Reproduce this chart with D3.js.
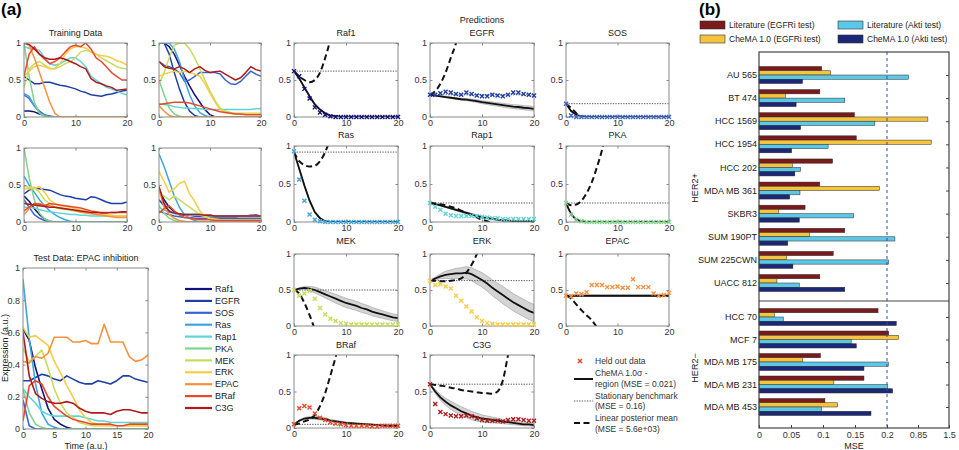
<!DOCTYPE html>
<html>
<head>
<meta charset="utf-8">
<title>CheMA predictions</title>
<script src="https://cdn.jsdelivr.net/npm/d3@7"></script>
<style>
  body { margin: 0; background: #fff; }
  svg { font-family: "Liberation Sans", Arial, sans-serif; }
</style>
</head>
<body>
<svg width="959" height="450"></svg>
<script>
// ---- data ----
var species = ["Raf1", "EGFR", "SOS", "Ras", "Rap1", "PKA", "MEK", "ERK", "EPAC", "BRaf", "C3G"];
var speciesColors = ["#12127c", "#1f3ea6", "#3a64c8", "#40a4e2", "#5fd4d8", "#80d48a", "#c6dc5c", "#f6cc48", "#f7913f", "#e9492b", "#ad1a1c"];
var times = [0,1,2,3,4,5,6,7,8,9,10,11,12,13,14,15,16,17,18,19,20];

// training data, one row per species
var trainA = [
  [0.08,0.08,0.07,0.04,0.02,0.01,0,0,0,0,0,0,0,0,0,0,0,0,0,0,0],
  [0.55,0.5,0.45,0.45,0.47,0.47,0.45,0.43,0.42,0.4,0.38,0.35,0.33,0.3,0.29,0.28,0.3,0.31,0.33,0.35,0.36],
  [0.3,0.25,0.15,0.08,0.03,0.01,0,0,0,0,0,0,0,0,0,0,0,0,0,0,0],
  [0.32,0.28,0.15,0.06,0.02,0,0,0,0,0,0,0,0,0,0,0,0,0,0,0,0],
  [0.95,0.93,0.92,0.9,0.8,0.72,0.7,0.72,0.76,0.8,0.8,0.75,0.68,0.55,0.5,0.45,0.4,0.38,0.35,0.32,0.3],
  [1,0.55,0.2,0.05,0.01,0,0,0,0,0,0,0,0,0,0,0,0,0,0,0,0],
  [0.4,0.65,0.72,0.75,0.7,0.66,0.65,0.68,0.72,0.75,0.8,0.88,0.9,0.88,0.85,0.8,0.76,0.72,0.68,0.66,0.65],
  [0.55,0.62,0.68,0.7,0.68,0.65,0.66,0.72,0.85,0.92,0.95,0.95,0.93,0.88,0.85,0.83,0.82,0.8,0.76,0.74,0.7],
  [1,0.97,0.8,0.6,0.4,0.2,0.05,0,0,0,0,0,0,0,0,0,0,0,0,0,0],
  [0.55,0.85,0.95,0.85,0.78,0.72,0.75,0.8,0.88,0.95,0.97,0.95,1,0.92,0.8,0.75,0.68,0.6,0.55,0.5,0.5],
  [1,0.98,0.92,0.85,0.8,0.78,0.78,0.8,0.78,0.75,0.72,0.68,0.65,0.52,0.47,0.45,0.42,0.4,0.36,0.37,0.38]
];
var trainB = [
  [1,1,0.95,0.85,0.7,0.55,0.42,0.3,0.2,0.1,0.03,0,0,0,0,0,0,0,0,0,0],
  [1,1,0.85,0.6,0.38,0.2,0.08,0.02,0,0,0,0,0,0,0,0,0,0,0,0,0],
  [0.75,0.7,0.68,0.65,0.6,0.48,0.5,0.55,0.6,0.6,0.6,0.6,0.58,0.5,0.45,0.44,0.48,0.55,0.62,0.58,0.55],
  [1,1,1,0.92,0.75,0.5,0.3,0.15,0.06,0.02,0,0,0,0,0,0,0,0,0,0,0],
  [0.18,0.17,0.16,0.14,0.13,0.12,0.12,0.11,0.11,0.1,0.1,0.1,0.1,0.1,0.1,0.1,0.1,0.1,0.1,0.11,0.11],
  [0.5,0.3,0.12,0.04,0.01,0,0,0,0,0,0,0,0,0,0,0,0,0,0,0,0],
  [0.45,0.6,0.8,0.97,1,1,0.92,0.8,0.65,0.5,0.35,0.22,0.12,0.08,0.06,0.05,0.05,0.05,0.05,0.05,0.05],
  [0.55,0.58,0.6,0.62,0.6,0.62,0.6,0.58,0.55,0.45,0.32,0.2,0.1,0.06,0.05,0.04,0.04,0.04,0.04,0.04,0.04],
  [0.15,0.08,0.02,0,0,0,0,0,0,0,0,0,0,0,0,0,0,0,0,0,0],
  [0.17,0.18,0.19,0.2,0.2,0.2,0.19,0.17,0.15,0.13,0.11,0.09,0.07,0.06,0.05,0.04,0.04,0.03,0.03,0.03,0.03],
  [0.75,0.68,0.66,0.65,0.68,0.65,0.6,0.65,0.68,0.63,0.6,0.61,0.62,0.58,0.54,0.5,0.53,0.6,0.68,0.64,0.62]
];
var trainC = [
  [0.35,0.28,0.18,0.1,0.04,0.01,0,0,0,0,0,0,0,0,0,0,0,0,0,0,0],
  [0.38,0.43,0.46,0.45,0.44,0.43,0.4,0.37,0.35,0.34,0.32,0.31,0.3,0.34,0.33,0.3,0.27,0.25,0.25,0.25,0.27],
  [0.3,0.2,0.1,0.05,0.02,0,0,0,0,0,0,0,0,0,0,0,0,0,0,0,0],
  [0.62,0.5,0.4,0.3,0.22,0.15,0.1,0.06,0.03,0.01,0,0,0,0,0,0,0,0,0,0,0],
  [0.2,0.2,0.19,0.17,0.15,0.14,0.13,0.12,0.11,0.1,0.1,0.09,0.09,0.08,0.08,0.08,0.08,0.08,0.08,0.08,0.08],
  [1,0.6,0.3,0.12,0.04,0.01,0,0,0,0,0,0,0,0,0,0,0,0,0,0,0],
  [0.48,0.47,0.47,0.4,0.3,0.25,0.2,0.18,0.17,0.16,0.15,0.14,0.13,0.12,0.11,0.1,0.09,0.09,0.08,0.08,0.08],
  [0.45,0.45,0.45,0.48,0.4,0.3,0.25,0.22,0.21,0.2,0.18,0.16,0.15,0.13,0.11,0.1,0.09,0.09,0.08,0.08,0.08],
  [0.1,0.18,0.25,0.25,0.23,0.22,0.2,0.19,0.18,0.17,0.15,0.13,0.12,0.11,0.1,0.09,0.08,0.07,0.06,0.06,0.06],
  [0.15,0.2,0.25,0.24,0.22,0.25,0.24,0.23,0.22,0.21,0.2,0.19,0.17,0.15,0.14,0.13,0.13,0.13,0.13,0.13,0.13],
  [0.25,0.24,0.23,0.22,0.21,0.2,0.2,0.19,0.18,0.17,0.16,0.15,0.14,0.13,0.13,0.12,0.12,0.13,0.13,0.14,0.14]
];
var trainD = [
  [0.45,0.3,0.2,0.14,0.1,0.09,0.09,0.08,0.08,0.08,0.07,0.07,0.07,0.07,0.07,0.07,0.08,0.08,0.08,0.09,0.08],
  [0.3,0.22,0.15,0.12,0.1,0.1,0.1,0.1,0.1,0.09,0.09,0.08,0.08,0.08,0.08,0.08,0.08,0.08,0.09,0.09,0.08],
  [0.15,0.12,0.1,0.08,0.07,0.06,0.06,0.05,0.05,0.05,0.05,0.05,0.05,0.05,0.05,0.05,0.05,0.05,0.05,0.05,0.05],
  [0.92,0.75,0.55,0.35,0.2,0.1,0.05,0.02,0,0,0,0,0,0,0,0,0,0,0,0,0],
  [0.2,0.16,0.13,0.11,0.1,0.1,0.09,0.09,0.09,0.08,0.08,0.08,0.08,0.08,0.08,0.08,0.08,0.08,0.08,0.08,0.08],
  [0.22,0.12,0.05,0.02,0,0,0,0,0,0,0,0,0,0,0,0,0,0,0,0,0],
  [0.4,0.35,0.3,0.35,0.3,0.25,0.2,0.15,0.1,0.07,0.05,0.04,0.03,0.03,0.03,0.03,0.03,0.03,0.03,0.03,0.03],
  [0.68,0.55,0.4,0.45,0.52,0.55,0.38,0.28,0.15,0.08,0.04,0.03,0.02,0.02,0.02,0.02,0.02,0.02,0.02,0.02,0.02],
  [0.45,0.2,0.1,0.05,0.02,0.01,0,0,0,0,0,0,0,0,0,0,0,0,0,0,0],
  [0.12,0.18,0.22,0.15,0.1,0.06,0.05,0.04,0.03,0.03,0.03,0.02,0.02,0.02,0.02,0.02,0.02,0.02,0.02,0.02,0.02],
  [0.48,0.25,0.14,0.12,0.11,0.1,0.1,0.1,0.1,0.09,0.09,0.08,0.08,0.08,0.08,0.08,0.08,0.08,0.08,0.08,0.08]
];
// test data (EPAC inhibition) = held out data in the prediction panels
var testEPAC = [
  [0.62,0.55,0.38,0.25,0.13,0.06,0.03,0.01,0,0,0,0,0,0,0,0,0,0,0,0,0],
  [0.3,0.3,0.32,0.34,0.33,0.31,0.3,0.33,0.31,0.29,0.28,0.28,0.3,0.29,0.28,0.3,0.33,0.33,0.31,0.3,0.29],
  [0.18,0.02,0,0,0,0,0,0,0,0,0,0,0,0,0,0,0,0,0,0,0],
  [0.93,0.56,0.28,0.1,0.03,0.01,0,0,0,0,0,0,0,0,0,0,0,0,0,0,0],
  [0.25,0.2,0.16,0.11,0.09,0.08,0.08,0.08,0.08,0.08,0.07,0.06,0.05,0.05,0.04,0.04,0.04,0.04,0.04,0.04,0.04],
  [0.25,0.1,0.03,0.01,0,0,0,0,0,0,0,0,0,0,0,0,0,0,0,0,0],
  [0.5,0.42,0.45,0.49,0.38,0.25,0.16,0.1,0.07,0.04,0.03,0.02,0.02,0.02,0.02,0.02,0.02,0.02,0.02,0.02,0.02],
  [0.63,0.57,0.58,0.55,0.52,0.42,0.35,0.27,0.2,0.12,0.07,0.04,0.03,0.02,0.02,0.02,0.02,0.02,0.02,0.02,0.02],
  [0.42,0.41,0.45,0.44,0.47,0.57,0.57,0.57,0.54,0.54,0.55,0.53,0.53,0.65,0.54,0.54,0.54,0.45,0.42,0.43,0.46],
  [0.05,0.27,0.3,0.28,0.2,0.14,0.11,0.08,0.06,0.05,0.04,0.03,0.03,0.03,0.03,0.02,0.02,0.03,0.03,0.03,0.03],
  [0.6,0.33,0.22,0.19,0.17,0.16,0.16,0.17,0.16,0.13,0.11,0.1,0.1,0.1,0.09,0.11,0.12,0.12,0.11,0.1,0.1]
];
// CheMA 1.0 posterior mean and sigma half width
var predMean = [
  [0.62,0.52,0.4,0.28,0.17,0.1,0.05,0.02,0.01,0,0,0,0,0,0,0,0,0,0,0,0],
  [0.3,0.29,0.28,0.27,0.26,0.25,0.24,0.235,0.225,0.215,0.2,0.19,0.18,0.17,0.16,0.15,0.14,0.135,0.125,0.12,0.11],
  [0.18,0.08,0.03,0.01,0,0,0,0,0,0,0,0,0,0,0,0,0,0,0,0,0],
  [0.92,0.7,0.48,0.28,0.13,0.05,0.01,0,0,0,0,0,0,0,0,0,0,0,0,0,0],
  [0.25,0.235,0.22,0.2,0.18,0.16,0.14,0.12,0.1,0.08,0.06,0.05,0.04,0.03,0.02,0.02,0.01,0.01,0.01,0.01,0.01],
  [0.25,0.1,0.03,0.01,0,0,0,0,0,0,0,0,0,0,0,0,0,0,0,0,0],
  [0.5,0.52,0.53,0.52,0.5,0.47,0.44,0.41,0.38,0.35,0.32,0.3,0.28,0.25,0.23,0.2,0.18,0.16,0.14,0.12,0.11],
  [0.63,0.66,0.69,0.71,0.72,0.73,0.73,0.74,0.72,0.68,0.64,0.59,0.53,0.48,0.43,0.38,0.33,0.29,0.25,0.21,0.18],
  [0.42,0.42,0.42,0.42,0.42,0.42,0.42,0.42,0.42,0.42,0.42,0.42,0.42,0.42,0.42,0.42,0.42,0.42,0.42,0.42,0.42],
  [0.05,0.1,0.13,0.14,0.14,0.13,0.12,0.1,0.09,0.08,0.07,0.065,0.06,0.055,0.05,0.045,0.04,0.035,0.03,0.03,0.03],
  [0.6,0.5,0.42,0.36,0.31,0.27,0.23,0.2,0.17,0.15,0.13,0.12,0.11,0.1,0.09,0.08,0.07,0.06,0.05,0.05,0.04]
];
var predSigma = [
  [0,0.01,0.015,0.015,0.015,0.01,0.01,0.005,0,0,0,0,0,0,0,0,0,0,0,0,0],
  [0,0.003,0.005,0.007,0.009,0.011,0.013,0.015,0.017,0.019,0.02,0.022,0.023,0.024,0.025,0.026,0.027,0.028,0.029,0.03,0.03],
  [0,0.01,0.005,0,0,0,0,0,0,0,0,0,0,0,0,0,0,0,0,0,0],
  [0,0.015,0.02,0.02,0.015,0.01,0.005,0,0,0,0,0,0,0,0,0,0,0,0,0,0],
  [0,0.005,0.008,0.01,0.012,0.013,0.014,0.014,0.014,0.013,0.012,0.011,0.01,0.009,0.008,0.007,0.006,0.005,0.005,0.005,0.005],
  [0,0.01,0.005,0,0,0,0,0,0,0,0,0,0,0,0,0,0,0,0,0,0],
  [0,0.01,0.02,0.03,0.04,0.045,0.05,0.055,0.06,0.062,0.064,0.064,0.063,0.062,0.06,0.058,0.055,0.052,0.05,0.048,0.045],
  [0,0.02,0.035,0.05,0.06,0.07,0.08,0.085,0.09,0.095,0.1,0.105,0.11,0.115,0.12,0.12,0.12,0.12,0.12,0.12,0.12],
  [0,0.005,0.008,0.01,0.01,0.01,0.01,0.01,0.01,0.01,0.01,0.01,0.01,0.01,0.01,0.01,0.01,0.01,0.01,0.01,0.01],
  [0,0.01,0.015,0.018,0.02,0.02,0.02,0.018,0.016,0.014,0.012,0.01,0.01,0.01,0.01,0.01,0.01,0.01,0.01,0.01,0.01],
  [0,0.03,0.04,0.05,0.055,0.06,0.06,0.06,0.058,0.055,0.05,0.045,0.04,0.035,0.03,0.028,0.025,0.022,0.02,0.02,0.02]
];
// linear posterior mean (runs off the axes quickly)
var linearMean = [
  [0.62,0.55,0.5,0.47,0.5,0.6,0.8,1.05,1.4],
  [0.3,0.35,0.45,0.6,0.8,1.0,1.3],
  [0.18,0.12,0.05,-0.05,-0.2],
  [0.92,0.8,0.75,0.73,0.74,0.8,0.92,1.1],
  [0.25,0.245,0.235,0.22,0.2,0.18,0.15,0.12,0.09,0.06,0.03,0.01,-0.02],
  [0.25,0.22,0.23,0.28,0.38,0.52,0.72,0.95,1.25],
  [0.5,0.45,0.32,0.15,-0.05,-0.3],
  [0.63,0.63,0.62,0.62,0.63,0.64,0.66,0.74,0.85,1.0,1.2],
  [0.42,0.38,0.3,0.22,0.15,0.08,-0.02,-0.15],
  [0.05,0.06,0.09,0.12,0.18,0.3,0.48,0.72,0.97,1.25],
  [0.6,0.59,0.58,0.57,0.55,0.54,0.52,0.51,0.5,0.49,0.48,0.475,0.47,0.5,0.65,1.0,1.4]
];
var stationary = [0.62, 0.3, 0.18, 0.92, 0.25, 0.25, 0.5, 0.63, 0.42, 0.05, 0.6];

// panel (b)
var cellLinesPos = ["AU 565", "BT 474", "HCC 1569", "HCC 1954", "HCC 202", "MDA MB 361", "SKBR3", "SUM 190PT", "SUM 225CWN", "UACC 812"];
var cellLinesNeg = ["HCC 70", "MCF 7", "MDA MB 175", "MDA MB 231", "MDA MB 453"];
var mseSeries = ["Literature (EGFRi test)", "CheMA 1.0 (EGFRi test)", "Literature (Akti test)", "CheMA 1.0 (Akti test)"];
var mseColors = ["#7b1a1c", "#f5c43c", "#5cc8e8", "#1b2878"];
var litEGFRi   = [0.098, 0.095, 0.149, 0.152, 0.115, 0.095, 0.072, 0.134, 0.116, 0.095, 0.186, 0.235, 0.096, 0.164, 0.103];
var chemaEGFRi = [0.112, 0.041, 1.057, 1.127, 0.052, 0.188, 0.031, 0.079, 0.043, 0.028, 0.024, 0.442, 0.068, 0.117, 0.123];
var litAkti    = [0.65, 0.134, 0.181, 0.108, 0.065, 0.064, 0.148, 0.366, 0.235, 0.063, 0.038, 0.144, 0.228, 0.214, 0.098];
var chemaAkti  = [0.068, 0.058, 0.065, 0.051, 0.056, 0.048, 0.063, 0.045, 0.053, 0.134, 0.394, 0.152, 0.164, 0.318, 0.175];
var mseTicks = [0, 0.05, 0.1, 0.15, 0.2, 0.85, 1.5];

// ---- drawing ----
var svg = d3.select("svg");
var clipCount = 0;
var FS = "9px";

function panel(x0, y0, x1, y1, xTicks, yTicks) {
  var x = d3.scaleLinear().domain([0, 20]).range([x0, x1]);
  var y = d3.scaleLinear().domain([0, 1]).range([y1, y0]);
  var g = svg.append("g");
  var id = "clip" + (clipCount++);
  svg.append("clipPath").attr("id", id)
    .append("rect").attr("x", x0).attr("y", y0).attr("width", x1 - x0).attr("height", y1 - y0);
  var plot = g.append("g").attr("clip-path", "url(#" + id + ")");
  var axes = g.append("g");
  var fmt = d3.format("");
  axes.append("g").attr("transform", "translate(0," + y1 + ")")
    .call(d3.axisBottom(x).tickValues(xTicks).tickSize(-2.5).tickPadding(3).tickFormat(fmt));
  axes.append("g").attr("transform", "translate(" + x0 + ",0)")
    .call(d3.axisLeft(y).tickValues(yTicks).tickSize(-2.5).tickPadding(3).tickFormat(fmt));
  axes.append("g").attr("transform", "translate(0," + y0 + ")")
    .call(d3.axisTop(x).tickValues(xTicks).tickSize(-2.5).tickFormat(""));
  axes.append("g").attr("transform", "translate(" + x1 + ",0)")
    .call(d3.axisRight(y).tickValues(yTicks).tickSize(-2.5).tickFormat(""));
  axes.selectAll(".domain").remove();
  axes.selectAll(".tick line").attr("stroke", "#888");
  axes.selectAll(".tick text").attr("fill", "#333").style("font-size", FS)
    .style("font-family", "'Liberation Sans', Arial, sans-serif");
  axes.append("rect").attr("x", x0).attr("y", y0).attr("width", x1 - x0).attr("height", y1 - y0)
    .attr("fill", "none").attr("stroke", "#8a8a8a").attr("stroke-width", 1);
  return { x: x, y: y, g: g, plot: plot, cx: (x0 + x1) / 2, top: y0 };
}

function drawSeries(p, rows, width) {
  var line = d3.line().x(function (d, i) { return p.x(times[i]); }).y(function (d) { return p.y(d); });
  p.plot.selectAll("path.series").data(rows).enter().append("path")
    .attr("class", "series")
    .attr("d", line)
    .attr("fill", "none")
    .attr("stroke", function (d, i) { return speciesColors[i]; })
    .attr("stroke-width", width)
    .attr("stroke-linejoin", "round");
}

function title(x, y, txt) {
  svg.append("text").attr("x", x).attr("y", y).attr("text-anchor", "middle")
    .style("font-size", FS).attr("fill", "#222").text(txt);
}

// (a) labels
svg.append("text").attr("x", 1).attr("y", 15).style("font-size", "17px").style("font-weight", "bold").text("(a)");
svg.append("text").attr("x", 699).attr("y", 15).style("font-size", "17px").style("font-weight", "bold").text("(b)");

// training panels
var tA = panel(24, 43, 127, 117, [0, 10, 20], [0, 0.5, 1]);
drawSeries(tA, trainA, 1.5);
title(tA.cx, 36, "Training Data");
var tB = panel(159, 43, 261, 117, [0, 10, 20], [0, 0.5, 1]);
drawSeries(tB, trainB, 1.5);
var tC = panel(24, 148, 127, 222, [0, 10, 20], [0, 0.5, 1]);
drawSeries(tC, trainC, 1.5);
var tD = panel(159, 148, 261, 222, [0, 10, 20], [0, 0.5, 1]);
drawSeries(tD, trainD, 1.5);

// test data
var tE = panel(23, 268, 148, 429, [0, 5, 10, 15, 20], [0, 0.2, 0.4, 0.6, 0.8, 1]);
drawSeries(tE, testEPAC, 1.6);
title(86, 261, "Test Data: EPAC inhibition");
title(86, 449, "Time (a.u.)");
svg.append("text").attr("transform", "translate(8,348) rotate(-90)").attr("text-anchor", "middle")
  .style("font-size", FS).attr("fill", "#222").text("Expression (a.u.)");

// species legend
var leg = svg.append("g").selectAll("g").data(species).enter().append("g")
  .attr("transform", function (d, i) { return "translate(0," + (289 + i * 11.9) + ")"; });
leg.append("line").attr("x1", 185).attr("x2", 212)
  .attr("stroke", function (d, i) { return speciesColors[i]; }).attr("stroke-width", 2.2);
leg.append("text").attr("x", 215).attr("dy", "0.35em").style("font-size", FS).attr("fill", "#222")
  .text(function (d) { return d; });

// predictions
title(482, 23, "Predictions");
var colX = [[294, 398], [430, 534], [566, 669]];
var rowY = [[43, 117], [146, 222], [254, 326], [355, 428]];
var titleY = [36, 138, 244, 348];
var crossPath = "M-2,-2L2,2M-2,2L2,-2";

species.forEach(function (name, k) {
  var c = k % 3, r = Math.floor(k / 3);
  var p = panel(colX[c][0], rowY[r][0], colX[c][1], rowY[r][1], [0, 10, 20], [0, 0.5, 1]);
  title(p.cx, titleY[r], name);

  var band = d3.area()
    .x(function (d, i) { return p.x(times[i]); })
    .y0(function (d, i) { return p.y(d - predSigma[k][i]); })
    .y1(function (d, i) { return p.y(d + predSigma[k][i]); });
  p.plot.append("path").attr("d", band(predMean[k]))
    .attr("fill", "#d4d4d4").attr("stroke", "#9a9a9a").attr("stroke-width", 0.6);

  p.plot.append("line").attr("x1", p.x(0)).attr("x2", p.x(20))
    .attr("y1", p.y(stationary[k])).attr("y2", p.y(stationary[k]))
    .attr("stroke", "#555").attr("stroke-width", 1).attr("stroke-dasharray", "1.3,1.3");

  var line = d3.line().x(function (d, i) { return p.x(times[i]); }).y(function (d) { return p.y(d); });
  p.plot.append("path").attr("d", line(predMean[k]))
    .attr("fill", "none").attr("stroke", "#111").attr("stroke-width", 1.8);

  p.plot.append("path").attr("d", d3.line().curve(d3.curveMonotoneX)
      .x(function (d, i) { return p.x(times[i]); }).y(function (d) { return p.y(d); })(linearMean[k]))
    .attr("fill", "none").attr("stroke", "#111").attr("stroke-width", 2)
    .attr("stroke-dasharray", "6,3.5");

  p.g.append("g").selectAll("path").data(testEPAC[k]).enter().append("path")
    .attr("transform", function (d, i) { return "translate(" + p.x(times[i]) + "," + p.y(d) + ")"; })
    .attr("d", crossPath)
    .attr("stroke", speciesColors[k]).attr("stroke-width", 1.4);
});

// predictions legend
var pl = svg.append("g").style("font-size", "8.5px").attr("fill", "#333");
pl.append("path").attr("transform", "translate(580,361)").attr("d", crossPath)
  .attr("stroke", "#e9492b").attr("stroke-width", 1.6);
pl.append("text").attr("x", 595).attr("y", 364).text("Held out data");
pl.append("line").attr("x1", 574).attr("x2", 593).attr("y1", 379).attr("y2", 379)
  .attr("stroke", "#111").attr("stroke-width", 2);
pl.append("text").attr("x", 595).attr("y", 376).text("CheMA 1.0\u03c3 -");
pl.append("text").attr("x", 595).attr("y", 387).text("region (MSE = 0.021)");
pl.append("line").attr("x1", 574).attr("x2", 593).attr("y1", 401).attr("y2", 401)
  .attr("stroke", "#555").attr("stroke-width", 1).attr("stroke-dasharray", "1.3,1.3");
pl.append("text").attr("x", 595).attr("y", 399).text("Stationary benchmark");
pl.append("text").attr("x", 595).attr("y", 409).text("(MSE = 0.16)");
pl.append("line").attr("x1", 574).attr("x2", 593).attr("y1", 423).attr("y2", 423)
  .attr("stroke", "#111").attr("stroke-width", 2).attr("stroke-dasharray", "6,3.5");
pl.append("text").attr("x", 595).attr("y", 421).text("Linear posterior mean");
pl.append("text").attr("x", 595).attr("y", 432).text("(MSE = 5.6e+03)");

// ---- (b) MSE bar chart ----
var bx0 = 759, bx1 = 949, by0 = 52, by1 = 428, bdiv = 301;
var xm = d3.scaleLinear().domain(mseTicks).range([759, 791, 823, 855, 887, 918, 949]);
var yPos = d3.scalePoint().domain(cellLinesPos).range([75, 283]);
var yNeg = d3.scalePoint().domain(cellLinesNeg).range([317, 407]);
var sub = d3.scaleBand().domain(mseSeries).range([-8.5, 8.5]);
var seriesVals = [litEGFRi, chemaEGFRi, litAkti, chemaAkti];
var allLines = cellLinesPos.concat(cellLinesNeg);
function yCell(name) { return cellLinesPos.indexOf(name) >= 0 ? yPos(name) : yNeg(name); }

var bg = svg.append("g");
seriesVals.forEach(function (vals, s) {
  bg.append("g").selectAll("rect").data(vals).enter().append("rect")
    .attr("x", xm(0))
    .attr("y", function (d, i) { return yCell(allLines[i]) + sub(mseSeries[s]); })
    .attr("width", function (d) { return xm(d) - xm(0); })
    .attr("height", sub.bandwidth())
    .attr("fill", mseColors[s])
    .attr("stroke", "#2a2a2a").attr("stroke-width", 0.5);
});

bg.append("line").attr("x1", xm(0.2)).attr("x2", xm(0.2)).attr("y1", by0).attr("y2", by1)
  .attr("stroke", "#2b4ea8").attr("stroke-width", 1).attr("stroke-dasharray", "3,3");

var bax = svg.append("g");
bax.append("g").attr("transform", "translate(0," + by1 + ")")
  .call(d3.axisBottom(xm).tickValues(mseTicks).tickSize(-3).tickPadding(4).tickFormat(d3.format("")));
bax.append("g").attr("transform", "translate(" + bx1 + ",0)")
  .call(d3.axisLeft(d3.scaleOrdinal().domain(allLines).range(allLines.map(yCell)))
    .tickSize(3).tickFormat(""));
bax.selectAll(".domain").remove();
bax.selectAll(".tick line").attr("stroke", "#444");
bax.selectAll(".tick text").attr("fill", "#333").style("font-size", FS)
  .style("font-family", "'Liberation Sans', Arial, sans-serif");

svg.append("g").selectAll("text").data(allLines).enter().append("text")
  .attr("x", bx0 - 2).attr("y", function (d) { return yCell(d); }).attr("dy", "0.35em")
  .attr("text-anchor", "end").style("font-size", FS).attr("fill", "#222")
  .text(function (d) { return d; });

svg.append("rect").attr("x", bx0).attr("y", by0).attr("width", bx1 - bx0).attr("height", by1 - by0)
  .attr("fill", "none").attr("stroke", "#444").attr("stroke-width", 1.2);
svg.append("line").attr("x1", bx0).attr("x2", bx1).attr("y1", bdiv).attr("y2", bdiv)
  .attr("stroke", "#444").attr("stroke-width", 1.2);

svg.append("text").attr("transform", "translate(698,188) rotate(-90)").attr("text-anchor", "middle")
  .style("font-size", FS).attr("fill", "#222").text("HER2+");
svg.append("text").attr("transform", "translate(698,368) rotate(-90)").attr("text-anchor", "middle")
  .style("font-size", FS).attr("fill", "#222").text("HER2\u2212");
svg.append("text").attr("x", 854).attr("y", 449).attr("text-anchor", "middle")
  .style("font-size", FS).attr("fill", "#222").text("MSE");

// (b) legend
var bl = svg.append("g").selectAll("g").data(mseSeries).enter().append("g")
  .attr("transform", function (d, i) {
    return "translate(" + (i < 2 ? 700 : 838) + "," + (i % 2 === 0 ? 21 : 35) + ")";
  });
bl.append("rect").attr("width", 25).attr("height", 8)
  .attr("fill", function (d, i) { return mseColors[i]; }).attr("stroke", "#333").attr("stroke-width", 0.6);
bl.append("text").attr("x", 29).attr("y", 4).attr("dy", "0.35em")
  .style("font-size", "8.5px").attr("fill", "#222").text(function (d) { return d; });
</script>
</body>
</html>
